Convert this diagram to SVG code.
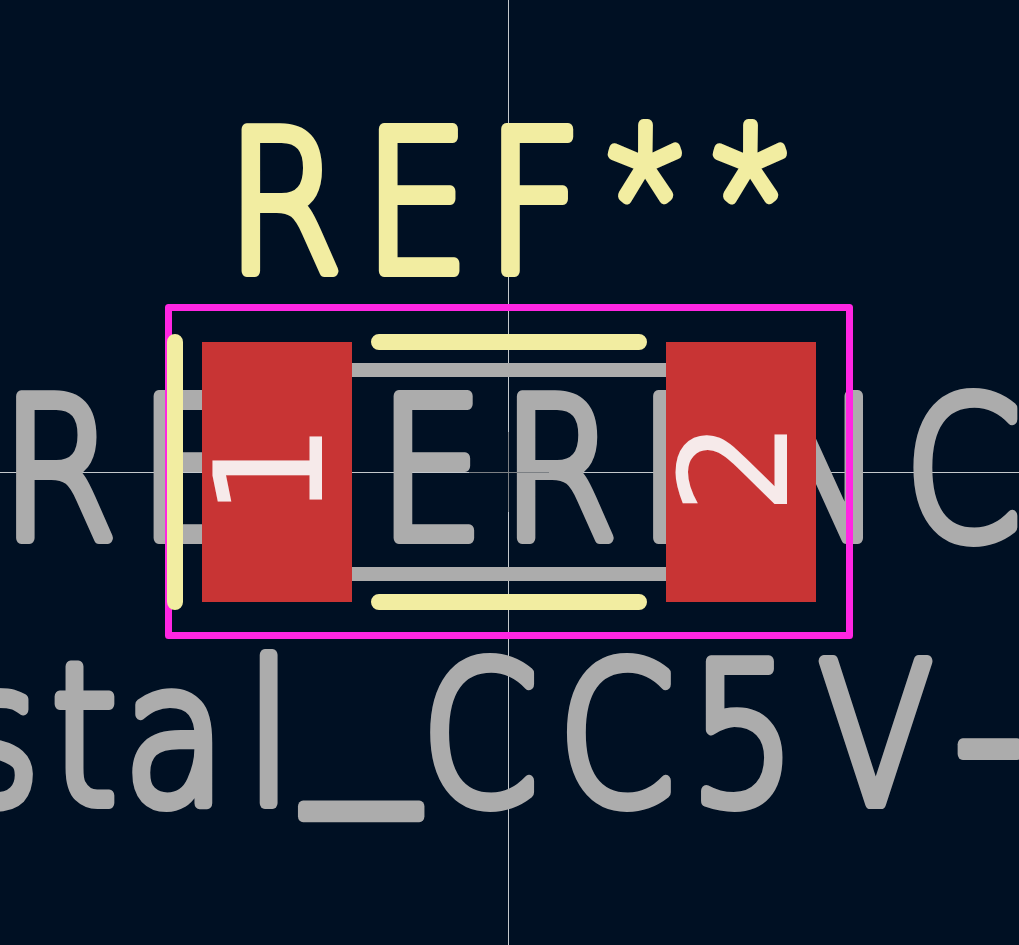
<svg xmlns="http://www.w3.org/2000/svg" width="1019" height="945" viewBox="0 0 1019 945">
<style>
.bg{fill:#001023}
.cross{stroke:#c4c8cc;stroke-width:1;fill:none}
.axis{stroke:#7c8084;stroke-width:1;fill:none}
.fabline{stroke:#acacac;stroke-width:14;fill:none}
.silk{stroke:#f2eda1;stroke-width:16;stroke-linecap:round;fill:none}
.court{stroke:#ff26e2;stroke-width:7;stroke-linejoin:round;fill:none}
.pad{fill:#c83434}
.big{font-family:"DejaVu Sans",sans-serif;font-weight:200;font-size:194px;stroke-linejoin:round;stroke-linecap:round;stroke-width:12}
.star{font-family:"Roboto",sans-serif;font-weight:100;font-size:190px}
.under{font-size:260px}
.dash{font-size:240px}
.gray{fill:#acacac;stroke:#acacac}
.yel{fill:#f2eda1;stroke:#f2eda1}
.num{font-family:"DejaVu Sans",sans-serif;font-size:150px;fill:#f6eaea}
</style>
<rect class="bg" width="1019" height="945"/>
<g id="crosshair"><path class="cross" d="M0 472.500H1019M508.500 0V945"/></g>
<g id="fab-value"><text class="big gray" transform="scale(.86 1)" x="1 161 300 440 583 742 882 1052" y="538">REFERENC</text></g>
<g id="value"><text class="big gray" transform="scale(.86 1)" x="-55 60 144 286 355 490 649 802 952 1108" y="803">stal<tspan class="under" dy="-48">_</tspan><tspan dy="48">CC5V</tspan><tspan class="dash" dy="12">-</tspan></text></g>
<g id="origin"><path class="axis" d="M469 472.500H549M508.500 432V512"/></g>
<g id="fab"><path class="fabline" d="M352 370H666M352 574H666"/></g>
<g id="courtyard"><rect class="court" x="168.500" y="307.500" width="681" height="328"/></g>
<g id="silkscreen"><path class="silk" d="M175 342V602M379 342H639M379 602H639"/></g>
<g id="reference"><text class="big yel" transform="scale(.86 1)" x="263 423 565 710 832" y="271.500">REF<tspan class="star" dy="-11.500">**</tspan></text></g>
<g id="pad1"><rect class="pad" x="202" y="342" width="150" height="260"/><text class="num" transform="translate(322 518) rotate(-90)">1</text></g>
<g id="pad2"><rect class="pad" x="666" y="342" width="150" height="260"/><text class="num" transform="translate(787 515) rotate(-90)">2</text></g>
</svg>
